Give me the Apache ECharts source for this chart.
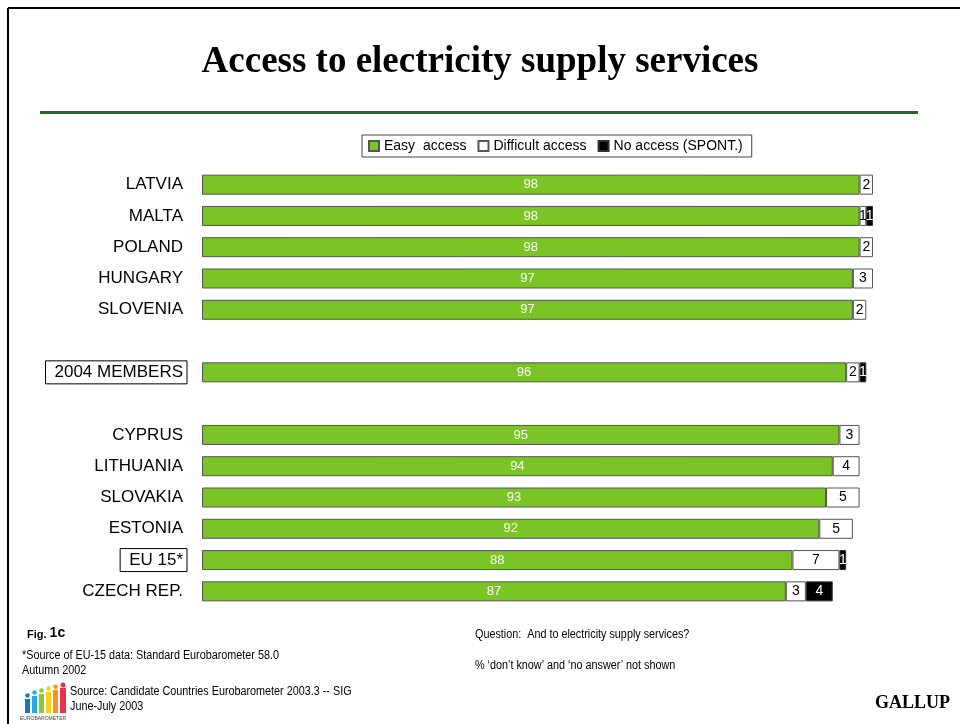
<!DOCTYPE html>
<html>
<head>
<meta charset="utf-8">
<script src="https://cdn.jsdelivr.net/npm/echarts@6/dist/echarts.min.js"></script>
<style>
  html, body { margin: 0; padding: 0; background: #fff; }
  #chart { width: 960px; height: 724px; }
</style>
</head>
<body>
<div id="chart"></div>
<script>
// Rows from top to bottom; blank strings are spacer rows between groups
const categories = ['LATVIA', 'MALTA', 'POLAND', 'HUNGARY', 'SLOVENIA', '', '2004 MEMBERS', ' ',
  'CYPRUS', 'LITHUANIA', 'SLOVAKIA', 'ESTONIA', 'EU 15*', 'CZECH REP.'];
const boxedRows = ['2004 MEMBERS', 'EU 15*'];

const easyAccess      = [98, 98, 98, 97, 97, null, 96, null, 95, 94, 93, 92, 88, 87];
const difficultAccess = [2, 1, 2, 3, 2, null, 2, null, 3, 4, 5, 5, 7, 3];
const noAccess        = [null, 1, null, null, null, null, 1, null, null, null, null, null, 1, 4];

const seriesNames = ['Easy  access', 'Difficult access', 'No access (SPONT.)'];

const GREEN = '#7AC425';
const SANS = "'Liberation Sans', Arial, sans-serif";
const SERIF = "'Liberation Serif', 'Times New Roman', serif";

const chart = echarts.init(document.getElementById('chart'), null, { renderer: 'canvas' });

function barSeries(name, data, color, border, labelColor, fontSize) {
  return {
    name: name,
    type: 'bar',
    stack: 'total',
    data: data,
    barWidth: 20,
    itemStyle: { color: color, borderColor: border, borderWidth: 1 },
    label: {
      show: true,
      position: 'inside',
      color: labelColor,
      fontFamily: SANS,
      fontSize: fontSize,
      formatter: p => (p.value == null ? '' : String(p.value))
    },
    emphasis: { disabled: true },
    animation: false
  };
}

// condensed footnote text
function note(x, y, text) {
  return { type: 'text', x: x, y: y, scaleX: 0.9,
           style: { text: text, fontFamily: SANS, fontSize: 12, fill: '#000' } };
}

const option = {
  backgroundColor: '#ffffff',
  animation: false,
  title: {
    text: 'Access to electricity supply services',
    left: 'center',
    top: 39,
    textStyle: { fontFamily: SERIF, fontWeight: 'bold', fontSize: 37, color: '#000' }
  },
  legend: {
    left: 362,
    top: 135,
    data: seriesNames,
    icon: 'rect',
    itemWidth: 10,
    itemHeight: 10,
    itemGap: 11,
    padding: [4, 9, 4, 6],
    borderColor: '#444',
    borderWidth: 1,
    selectedMode: false,
    textStyle: { fontFamily: SANS, fontSize: 14, color: '#000' }
  },
  grid: { left: 202, right: 87, top: 169, bottom: 117 },
  xAxis: { type: 'value', min: 0, max: 100, show: false },
  yAxis: {
    type: 'category',
    inverse: true,
    data: categories,
    axisLine: { show: false },
    axisTick: { show: false },
    axisLabel: {
      margin: 15,
      formatter: v => {
        if (!v.trim()) return '';
        return boxedRows.includes(v) ? '{box|' + v + '}' : '{plain|' + v + '}';
      },
      rich: {
        plain: { fontFamily: SANS, fontSize: 17, color: '#000', lineHeight: 18, padding: [3, 4, 3, 9] },
        box: { fontFamily: SANS, fontSize: 17, color: '#000', lineHeight: 18, padding: [3, 4, 3, 9],
               borderColor: '#000', borderWidth: 1 }
      }
    }
  },
  series: [
    barSeries(seriesNames[0], easyAccess, GREEN, '#555', '#fff', 13),
    barSeries(seriesNames[1], difficultAccess, '#fff', '#555', '#000', 14),
    barSeries(seriesNames[2], noAccess, '#000', '#333', '#fff', 14)
  ],
  graphic: [
    // page frame
    { type: 'line', shape: { x1: 8, y1: 8, x2: 960, y2: 8 }, style: { stroke: '#000', lineWidth: 2 } },
    { type: 'line', shape: { x1: 8, y1: 8, x2: 8, y2: 724 }, style: { stroke: '#000', lineWidth: 2 } },
    // rule under the title
    { type: 'line', shape: { x1: 40, y1: 112.5, x2: 918, y2: 112.5 }, style: { stroke: '#1F6E1F', lineWidth: 3 } },
    // footnotes
    { type: 'text', x: 27, y: 626, style: { text: '{a|Fig. }{b|1c}', rich: {
        a: { fontFamily: SANS, fontWeight: 'bold', fontSize: 11, fill: '#000', verticalAlign: 'bottom' },
        b: { fontFamily: SANS, fontWeight: 'bold', fontSize: 14, fill: '#000', verticalAlign: 'bottom' } } } },
    note(22, 650, '*Source of EU-15 data: Standard Eurobarometer 58.0'),
    note(22, 665, 'Autumn 2002'),
    note(70, 686, 'Source: Candidate Countries Eurobarometer 2003.3 -- SIG'),
    note(70, 701, 'June-July 2003'),
    note(475, 629, 'Question:  And to electricity supply services?'),
    note(475, 660, '% \u2018don\u2019t know\u2019 and \u2018no answer\u2019 not shown'),
    { type: 'text', x: 875, y: 694, style: { text: 'GALLUP', fontFamily: SERIF, fontWeight: 'bold', fontSize: 18, fill: '#000' } },
    // Eurobarometer logo
    { type: 'group', x: 22, y: 684, children: [
        { type: 'rect', shape: { x: 3, y: 15, width: 5, height: 14 }, style: { fill: '#1B75BB' } },
        { type: 'circle', shape: { cx: 5.5, cy: 11.5, r: 2.2 }, style: { fill: '#1B75BB' } },
        { type: 'rect', shape: { x: 10, y: 12, width: 5, height: 17 }, style: { fill: '#29ABE2' } },
        { type: 'circle', shape: { cx: 12.5, cy: 8.5, r: 2.2 }, style: { fill: '#29ABE2' } },
        { type: 'rect', shape: { x: 17, y: 10, width: 5, height: 19 }, style: { fill: '#8CC63F' } },
        { type: 'circle', shape: { cx: 19.5, cy: 6.5, r: 2.2 }, style: { fill: '#8CC63F' } },
        { type: 'rect', shape: { x: 24, y: 8, width: 5, height: 21 }, style: { fill: '#F7D117' } },
        { type: 'circle', shape: { cx: 26.5, cy: 4.5, r: 2.2 }, style: { fill: '#F7D117' } },
        { type: 'rect', shape: { x: 31, y: 6, width: 5, height: 23 }, style: { fill: '#F7931E' } },
        { type: 'circle', shape: { cx: 33.5, cy: 2.8, r: 2.2 }, style: { fill: '#F7931E' } },
        { type: 'rect', shape: { x: 38, y: 4, width: 6, height: 25 }, style: { fill: '#E8334A' } },
        { type: 'circle', shape: { cx: 41, cy: 1, r: 2.5 }, style: { fill: '#E8334A' } },
        { type: 'text', style: { x: -2, y: 32, text: 'EUROBAROMETER', fontFamily: SANS, fontSize: 5, fill: '#444' } }
    ] }
  ]
};

chart.setOption(option);
</script>
</body>
</html>
